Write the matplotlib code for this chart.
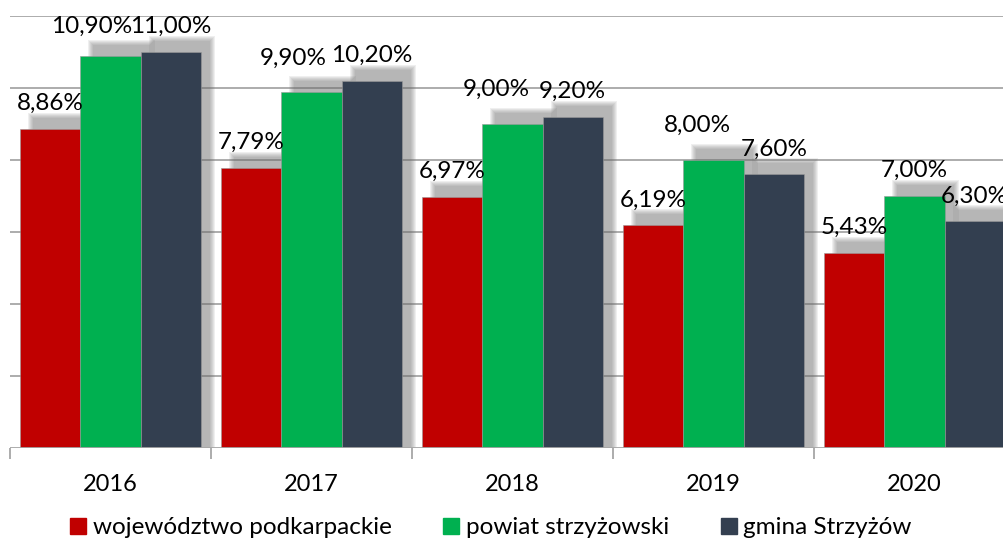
import numpy as np
import matplotlib
matplotlib.use("Agg")
from matplotlib import pyplot as plt
from matplotlib.patches import Rectangle
from matplotlib.lines import Line2D

years = ['2016', '2017', '2018', '2019', '2020']
series = ['województwo podkarpackie', 'powiat strzyżowski', 'gmina Strzyżów']
wojewodztwo = [8.86, 7.79, 6.97, 6.19, 5.43]
powiat = [10.90, 9.90, 9.00, 8.00, 7.00]
gmina = [11.00, 10.20, 9.20, 7.60, 6.30]
colors = ['#C00000', '#00B050', '#333F50']

plt.rcParams['font.family'] = ['Lato', 'DejaVu Sans']

fig = plt.figure(figsize=(10.04, 5.41), dpi=100)
# axes run past the right edge, like in the cropped original
ax = fig.add_axes([10 / 1004, 1 - 448 / 541, 1005 / 1004, 432 / 541])
ax.set_xlim(0, 5)
ax.set_ylim(0, 12)

bbox = ax.get_window_extent()
px_x = bbox.width / 5.0
px_y = bbox.height / 12.0

width = 0.3
x = np.arange(len(years)) + 0.5
all_vals = [wojewodztwo, powiat, gmina]

# green labels were pushed aside in the original (pixels)
nudge = {(1, 0): (-19, 4), (1, 1): (-18, 8), (1, 2): (-16, 9), (1, 3): (-16, 9)}

# grid
for g in range(2, 13, 2):
    ax.axhline(g, color='#a6a6a6', lw=1.3, zorder=0)

for i, (vals, col) in enumerate(zip(all_vals, colors)):
    xs = x + (i - 1) * width
    for xi, v in zip(xs, vals):
        # blurred shadow, shifted up and right
        dx, dy = 8 / px_x, 10 / px_y
        for k in range(6):
            gx, gy = (6 - k) / px_x, (6 - k) / px_y
            ax.add_patch(Rectangle((xi - width / 2 + dx - gx + 6 / px_x, 0),
                                   width + 2 * gx - 6 / px_x, v + dy + gy,
                                   facecolor='#6a6a6a', edgecolor='none',
                                   alpha=0.1, zorder=1 + i * 2))
    ax.bar(xs, vals, width, color=col, edgecolor='#9a9a9a', linewidth=0.4,
           zorder=2 + i * 2)
    for j, (xi, v) in enumerate(zip(xs, vals)):
        ox, oy = nudge.get((i, j), (0, 0))
        ax.annotate(f"{v:.2f}".replace('.', ',') + '%', (xi, v),
                    xytext=(ox * 0.72, 13.5 + oy * 0.72), textcoords='offset points',
                    ha='center', va='baseline', fontsize=17.5, zorder=10)

ax.axhline(0, color='#a6a6a6', lw=1.3, zorder=9)
for s in ax.spines.values():
    s.set_visible(False)
ax.set_yticks([])
ax.set_xticks(x)
ax.set_xticklabels(years, fontsize=17)
ax.tick_params(axis='x', which='major', length=0, pad=19)
ax.set_xticks(np.arange(6), minor=True)
ax.tick_params(axis='x', which='minor', length=8, width=1.3, color='#a6a6a6')

handles = [Line2D([], [], marker='s', linestyle='none', markersize=11,
                  markerfacecolor=c, markeredgecolor=c) for c in colors]
fig.legend(handles, series, loc='lower center', ncol=3, frameon=False,
           fontsize=17.5, bbox_to_anchor=(0.487, -0.035), handletextpad=0.1,
           columnspacing=1.95, handlelength=1.0)

fig.savefig('out.png', dpi=100)
